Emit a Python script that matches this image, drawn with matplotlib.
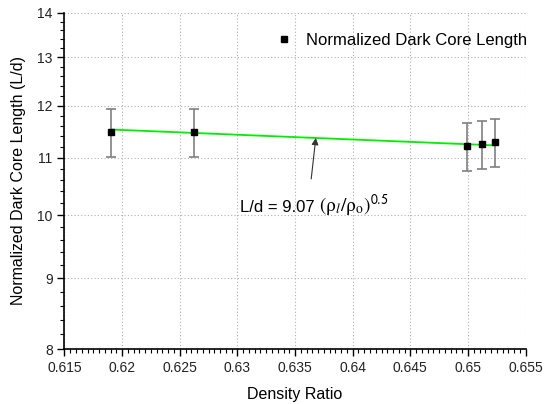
import matplotlib
matplotlib.use("Agg")
import matplotlib.pyplot as plt
from matplotlib.lines import Line2D
from matplotlib.ticker import FixedLocator, FixedFormatter, NullFormatter, MultipleLocator

plt.rcParams['font.family'] = ['Liberation Sans', 'DejaVu Sans']
plt.rcParams['mathtext.fontset'] = 'stix'

# Data
density_ratio = [0.619, 0.6262, 0.6499, 0.6512, 0.6523]
dark_core_length = [11.48, 11.48, 11.21, 11.25, 11.29]
error = [0.46, 0.46, 0.45, 0.45, 0.45]
fit_x = [0.619, 0.6523]
fit_y = [11.53, 11.23]
y_ticks = [8, 9, 10, 11, 12, 13, 14]
y_minor = [8.2, 8.4, 8.6, 8.8, 9.2, 9.4, 9.6, 9.8, 10.2, 10.4, 10.6, 10.8,
           11.2, 11.4, 11.6, 11.8, 12.2, 12.4, 12.6, 12.8, 13.2, 13.4, 13.6, 13.8]
x_ticks = [0.615, 0.62, 0.625, 0.63, 0.635, 0.64, 0.645, 0.65, 0.655]
x_tick_labels = ['0.615', '0.62', '0.625', '0.63', '0.635', '0.64', '0.645', '0.65', '0.655']

fig = plt.figure(figsize=(5.51, 4.04), dpi=100)
ax = fig.add_axes([0.117, 0.136, 0.837, 0.832])

ax.set_yscale('log')
ax.set_xlim(0.615, 0.655)
ax.set_ylim(8, 14)

ax.plot(fit_x, fit_y, color='#00ee00', lw=1.3, zorder=2)
ax.errorbar(density_ratio, dark_core_length, yerr=error, fmt='s', color='black',
            ms=4.5, ecolor='#808080', elinewidth=1.2, capsize=3.5, capthick=1.2,
            zorder=3)

ax.yaxis.set_major_locator(FixedLocator(y_ticks))
ax.yaxis.set_minor_locator(FixedLocator(y_minor))
ax.yaxis.set_major_formatter(FixedFormatter([str(t) for t in y_ticks]))
ax.yaxis.set_minor_formatter(NullFormatter())
ax.set_xticks(x_ticks)
ax.set_xticklabels(x_tick_labels)
ax.xaxis.set_minor_locator(MultipleLocator(0.0005))

ax.tick_params(axis='both', which='major', direction='out', length=5, width=1,
               labelsize=10, color='black', labelcolor='#222222')
ax.tick_params(axis='both', which='minor', direction='out', length=3, width=0.8)

ax.spines['top'].set_visible(False)
ax.spines['right'].set_visible(False)
ax.spines['left'].set_linewidth(1.2)
ax.spines['bottom'].set_linewidth(1.2)

ax.grid(True, which='major', linestyle=(0, (1, 2)), color='#b0b0b0', lw=0.8)
ax.set_axisbelow(True)

ax.set_xlabel('Density Ratio', fontsize=11.5, labelpad=9)
ax.set_ylabel('Normalized Dark Core Length (L/d)', fontsize=11.5, labelpad=8)

ax.annotate('', xy=(0.6368, 11.37), xytext=(0.6364, 10.62),
            arrowprops=dict(arrowstyle='-|>', color='#333333', lw=0.8,
                            mutation_scale=10, shrinkA=0, shrinkB=0))
ax.text(0.6371, 10.05, 'L/d = 9.07 ', fontsize=12, ha='right', va='baseline')
ax.text(0.6371, 10.05, r'$(\mathrm{\rho}_l/\mathrm{\rho}_\mathrm{o})^{\mathsf{0.5}}$',
        fontsize=14, ha='left', va='baseline')

handle = Line2D([], [], marker='s', color='black', linestyle='none', ms=4)
ax.legend([handle], ['Normalized Dark Core Length'], loc='upper right',
          bbox_to_anchor=(1.035, 0.985), frameon=False, fontsize=12,
          handlelength=1.0, handletextpad=0.8, numpoints=1)

fig.savefig('out.png', dpi=100)
